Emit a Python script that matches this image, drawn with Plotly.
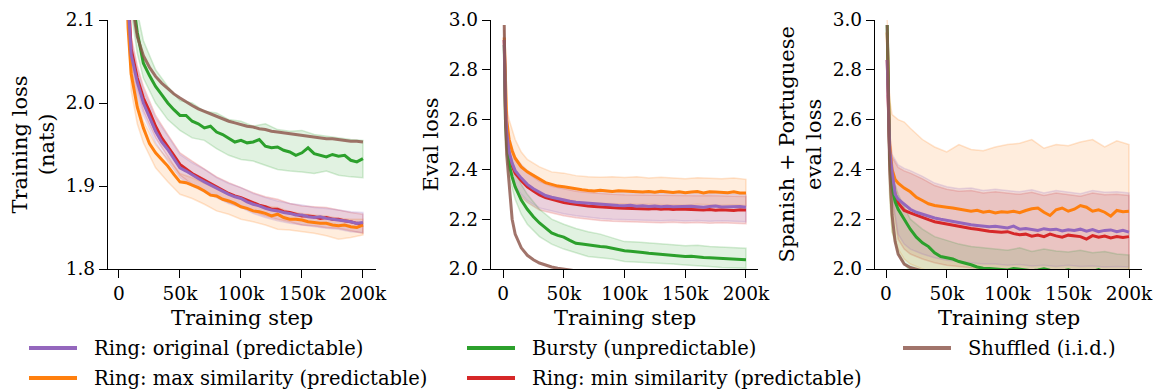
import plotly.graph_objects as go

# ---------------------------------------------------------------- data
STEPS = [1000, 2000, 3000, 5000, 7500, 10000, 15000, 20000] + list(range(25000, 200001, 5000))
BAND_STEPS = [1000, 3000, 5000, 10000, 15000, 20000] + list(range(30000, 200001, 10000))

SERIES = ["original", "max", "bursty", "min", "shuffled"]
LABELS = {
    "original": "Ring: original (predictable)",
    "max": "Ring: max similarity (predictable)",
    "bursty": "Bursty (unpredictable)",
    "min": "Ring: min similarity (predictable)",
    "shuffled": "Shuffled (i.i.d.)",
}
COLORS = {
    "original": (148, 103, 189),
    "max": (255, 127, 14),
    "bursty": (44, 160, 44),
    "min": (214, 39, 40),
    "shuffled": (140, 86, 75),
}

# Training loss (nats)
train_original = [2.95, 2.65, 2.47, 2.26, 2.12, 2.058, 2.025, 2.0, 1.983, 1.966, 1.953, 1.944, 1.933, 1.922,
                  1.918, 1.913, 1.909, 1.905, 1.901, 1.897, 1.893, 1.89, 1.887, 1.885, 1.881, 1.878, 1.876,
                  1.873, 1.871, 1.87, 1.868, 1.867, 1.865, 1.865, 1.863, 1.862, 1.863, 1.861, 1.86, 1.859,
                  1.858, 1.857, 1.855, 1.856]
train_max = [2.9, 2.6, 2.42, 2.2, 2.09, 2.035, 1.995, 1.97, 1.951, 1.94, 1.932, 1.924, 1.914, 1.905, 1.904,
             1.901, 1.898, 1.894, 1.889, 1.888, 1.884, 1.882, 1.879, 1.875, 1.873, 1.87, 1.869, 1.867, 1.864,
             1.866, 1.862, 1.86, 1.86, 1.859, 1.857, 1.856, 1.855, 1.855, 1.853, 1.852, 1.853, 1.851, 1.85,
             1.853]
train_bursty = [2.95, 2.7, 2.55, 2.36, 2.22, 2.14, 2.085, 2.048, 2.033, 2.02, 2.01, 2.0, 1.992, 1.985, 1.985,
                1.978, 1.975, 1.97, 1.972, 1.965, 1.962, 1.957, 1.953, 1.955, 1.952, 1.953, 1.956, 1.948,
                1.946, 1.947, 1.943, 1.941, 1.937, 1.94, 1.946, 1.939, 1.937, 1.935, 1.938, 1.936, 1.937,
                1.931, 1.929, 1.933]
train_min = [2.95, 2.66, 2.48, 2.27, 2.13, 2.065, 2.03, 2.006, 1.99, 1.972, 1.958, 1.948, 1.937, 1.926, 1.92,
             1.915, 1.911, 1.907, 1.902, 1.898, 1.895, 1.891, 1.888, 1.886, 1.883, 1.88, 1.877, 1.875, 1.872,
             1.872, 1.869, 1.868, 1.866, 1.864, 1.864, 1.863, 1.861, 1.862, 1.86, 1.86, 1.858, 1.857, 1.855,
             1.854]
train_shuffled = [2.9, 2.65, 2.5, 2.32, 2.2, 2.125, 2.08, 2.057, 2.043, 2.032, 2.024, 2.017, 2.011, 2.006,
                  2.001, 1.997, 1.993, 1.99, 1.987, 1.984, 1.981, 1.978, 1.976, 1.974, 1.972, 1.971, 1.969,
                  1.968, 1.966, 1.965, 1.964, 1.963, 1.962, 1.961, 1.96, 1.959, 1.958, 1.957, 1.957, 1.956,
                  1.955, 1.954, 1.954, 1.953]

train_original_hi = [3.0, 2.5, 2.29, 2.075, 2.04, 2.015, 1.982, 1.96, 1.938, 1.928, 1.92, 1.91, 1.903, 1.898,
                     1.891, 1.886, 1.882, 1.879, 1.877, 1.874, 1.873, 1.871, 1.869, 1.868]
train_original_lo = [2.9, 2.44, 2.23, 2.04, 2.008, 1.985, 1.952, 1.93, 1.91, 1.9, 1.893, 1.886, 1.879, 1.874,
                     1.867, 1.862, 1.858, 1.855, 1.853, 1.851, 1.849, 1.848, 1.845, 1.844]
train_max_hi = [2.95, 2.45, 2.22, 2.045, 2.005, 1.978, 1.95, 1.933, 1.915, 1.91, 1.903, 1.897, 1.891, 1.884,
                1.879, 1.876, 1.874, 1.869, 1.867, 1.865, 1.864, 1.861, 1.86, 1.86]
train_max_lo = [2.85, 2.38, 2.17, 2.015, 1.975, 1.952, 1.922, 1.905, 1.89, 1.885, 1.878, 1.87, 1.866, 1.86,
                1.857, 1.853, 1.848, 1.847, 1.845, 1.843, 1.84, 1.836, 1.838, 1.841]
train_bursty_hi = [3.0, 2.6, 2.4, 2.17, 2.11, 2.075, 2.04, 2.02, 2.003, 2.0, 1.99, 1.988, 1.98, 1.978, 1.972,
                   1.975, 1.968, 1.966, 1.967, 1.962, 1.96, 1.958, 1.956, 1.955]
train_bursty_lo = [2.9, 2.5, 2.32, 2.11, 2.06, 2.03, 2.0, 1.98, 1.967, 1.958, 1.955, 1.945, 1.937, 1.932,
                   1.93, 1.925, 1.92, 1.918, 1.917, 1.915, 1.918, 1.913, 1.911, 1.91]
train_min_hi = [3.0, 2.51, 2.3, 2.08, 2.045, 2.02, 1.985, 1.962, 1.94, 1.93, 1.921, 1.911, 1.904, 1.898,
                1.892, 1.887, 1.884, 1.879, 1.876, 1.875, 1.874, 1.871, 1.868, 1.866]
train_min_lo = [2.9, 2.45, 2.24, 2.048, 2.015, 1.99, 1.958, 1.935, 1.913, 1.902, 1.895, 1.887, 1.88, 1.875,
                1.869, 1.864, 1.86, 1.857, 1.853, 1.852, 1.85, 1.849, 1.846, 1.843]

# Eval loss
eval_original = [2.92, 2.65, 2.55, 2.47, 2.425, 2.395, 2.365, 2.34, 2.322, 2.308, 2.295, 2.288, 2.282, 2.277,
                 2.272, 2.268, 2.266, 2.263, 2.26, 2.259, 2.257, 2.256, 2.255, 2.254, 2.256, 2.252, 2.254,
                 2.251, 2.253, 2.25, 2.252, 2.25, 2.251, 2.249, 2.252, 2.25, 2.248, 2.251, 2.253, 2.249,
                 2.25, 2.248, 2.251, 2.248]
eval_max = [2.93, 2.7, 2.6, 2.52, 2.475, 2.445, 2.41, 2.39, 2.375, 2.36, 2.347, 2.34, 2.333, 2.33, 2.325,
            2.322, 2.318, 2.315, 2.313, 2.316, 2.313, 2.311, 2.314, 2.313, 2.31, 2.312, 2.309, 2.311, 2.308,
            2.312, 2.309, 2.307, 2.31, 2.306, 2.309, 2.311, 2.305, 2.31, 2.309, 2.307, 2.306, 2.31, 2.305,
            2.305]
eval_bursty = [2.9, 2.6, 2.5, 2.42, 2.37, 2.33, 2.277, 2.24, 2.21, 2.185, 2.165, 2.145, 2.135, 2.128, 2.115,
               2.103, 2.1, 2.096, 2.094, 2.09, 2.088, 2.082, 2.078, 2.073, 2.071, 2.067, 2.066, 2.063, 2.061,
               2.059, 2.056, 2.055, 2.053, 2.05, 2.051, 2.048, 2.046, 2.045, 2.044, 2.042, 2.041, 2.04,
               2.038, 2.037]
eval_min = [2.92, 2.64, 2.54, 2.46, 2.415, 2.385, 2.355, 2.33, 2.313, 2.298, 2.287, 2.28, 2.273, 2.267, 2.263,
            2.259, 2.256, 2.253, 2.251, 2.249, 2.247, 2.246, 2.245, 2.244, 2.243, 2.245, 2.242, 2.241, 2.243,
            2.24, 2.242, 2.239, 2.241, 2.24, 2.238, 2.24, 2.237, 2.239, 2.236, 2.238, 2.237, 2.235, 2.238,
            2.237]
eval_shuffled = [2.98, 2.6, 2.46, 2.33, 2.2, 2.14, 2.085, 2.055, 2.037, 2.024, 2.015, 2.008, 2.003, 1.999,
                 1.995, 1.991, 1.988, 1.985, 1.982, 1.98, 1.978, 1.976, 1.974, 1.972, 1.971, 1.969, 1.968,
                 1.966, 1.965, 1.964, 1.962, 1.961, 1.96, 1.959, 1.958, 1.957, 1.956, 1.955, 1.954, 1.953,
                 1.952, 1.952, 1.951, 1.95]

eval_original_hi = [2.97, 2.6, 2.53, 2.45, 2.42, 2.395, 2.36, 2.34, 2.33, 2.32, 2.315, 2.31, 2.308, 2.306,
                    2.305, 2.303, 2.302, 2.302, 2.3, 2.302, 2.303, 2.3, 2.3, 2.299]
eval_original_lo = [2.86, 2.49, 2.41, 2.33, 2.3, 2.275, 2.245, 2.232, 2.222, 2.214, 2.208, 2.203, 2.2, 2.197,
                    2.198, 2.195, 2.194, 2.196, 2.193, 2.195, 2.192, 2.194, 2.192, 2.19]
eval_max_hi = [2.98, 2.65, 2.6, 2.52, 2.47, 2.44, 2.41, 2.39, 2.385, 2.375, 2.37, 2.368, 2.37, 2.367, 2.37,
               2.365, 2.368, 2.365, 2.362, 2.366, 2.365, 2.362, 2.365, 2.36]
eval_max_lo = [2.88, 2.55, 2.45, 2.38, 2.35, 2.33, 2.3, 2.29, 2.28, 2.272, 2.265, 2.265, 2.262, 2.262, 2.26,
               2.26, 2.26, 2.258, 2.256, 2.26, 2.258, 2.256, 2.258, 2.255]
eval_bursty_hi = [2.96, 2.56, 2.48, 2.39, 2.34, 2.3, 2.24, 2.2, 2.18, 2.163, 2.15, 2.14, 2.125, 2.11, 2.108,
                  2.105, 2.1, 2.097, 2.093, 2.095, 2.09, 2.088, 2.085, 2.083]
eval_bursty_lo = [2.85, 2.45, 2.37, 2.28, 2.22, 2.18, 2.13, 2.1, 2.08, 2.065, 2.05, 2.045, 2.04, 2.03, 2.028,
                  2.025, 2.022, 2.02, 2.016, 2.012, 2.01, 2.006, 2.004, 2.003]
eval_min_hi = [2.96, 2.59, 2.52, 2.44, 2.41, 2.387, 2.352, 2.332, 2.322, 2.312, 2.307, 2.302, 2.3, 2.298,
               2.297, 2.295, 2.294, 2.294, 2.292, 2.294, 2.295, 2.292, 2.292, 2.291]
eval_min_lo = [2.85, 2.48, 2.4, 2.32, 2.29, 2.267, 2.237, 2.224, 2.214, 2.206, 2.2, 2.195, 2.192, 2.189,
               2.19, 2.187, 2.186, 2.188, 2.185, 2.187, 2.184, 2.186, 2.184, 2.182]

# Spanish + Portuguese eval loss
es_pt_original = [2.84, 2.6, 2.48, 2.39, 2.3, 2.28, 2.26, 2.24, 2.228, 2.22, 2.21, 2.205, 2.2, 2.195, 2.19,
                  2.188, 2.183, 2.178, 2.175, 2.172, 2.17, 2.172, 2.168, 2.165, 2.172, 2.16, 2.163, 2.158,
                  2.155, 2.162, 2.158, 2.16, 2.153, 2.158, 2.155, 2.16, 2.152, 2.158, 2.15, 2.155, 2.157,
                  2.15, 2.155, 2.148]
es_pt_max = [2.95, 2.7, 2.5, 2.4, 2.36, 2.345, 2.325, 2.31, 2.288, 2.275, 2.262, 2.255, 2.25, 2.248, 2.245,
             2.24, 2.237, 2.232, 2.236, 2.228, 2.232, 2.225, 2.23, 2.228, 2.232, 2.226, 2.235, 2.242, 2.245,
             2.228, 2.215, 2.238, 2.245, 2.232, 2.24, 2.255, 2.248, 2.232, 2.238, 2.228, 2.212, 2.235, 2.23,
             2.232]
es_pt_bursty = [2.98, 2.6, 2.45, 2.324, 2.27, 2.24, 2.2, 2.16, 2.128, 2.105, 2.09, 2.065, 2.05, 2.045, 2.04,
                2.03, 2.025, 2.017, 2.008, 2.003, 2.002, 2.0, 1.998, 1.996, 2.002, 1.998, 1.995, 1.993,
                1.996, 2.001, 1.995, 1.993, 1.992, 1.997, 1.99, 1.992, 1.988, 1.99, 1.998, 1.986, 1.988,
                1.985, 1.984, 1.985]
es_pt_min = [2.84, 2.58, 2.46, 2.37, 2.3, 2.265, 2.235, 2.225, 2.215, 2.208, 2.198, 2.19, 2.185, 2.18, 2.177,
             2.172, 2.168, 2.163, 2.16, 2.155, 2.152, 2.15, 2.148, 2.15, 2.142, 2.138, 2.14, 2.132, 2.136,
             2.13, 2.14, 2.133, 2.128, 2.136, 2.132, 2.13, 2.12, 2.134, 2.128, 2.132, 2.125, 2.13, 2.127,
             2.13]
es_pt_shuffled = [2.98, 2.6, 2.4, 2.217, 2.11, 2.06, 2.02, 2.006, 1.998, 1.99, 1.985, 1.98, 1.976, 1.972,
                  1.969, 1.966, 1.963, 1.961, 1.959, 1.957, 1.955, 1.953, 1.951, 1.95, 1.948, 1.947, 1.946,
                  1.945, 1.944, 1.943, 1.942, 1.941, 1.94, 1.939, 1.938, 1.937, 1.936, 1.935, 1.934, 1.933,
                  1.932, 1.931, 1.93, 1.93]

es_pt_original_hi = [2.98, 2.55, 2.46, 2.418, 2.404, 2.395, 2.372, 2.345, 2.33, 2.322, 2.325, 2.315, 2.32,
                     2.315, 2.31, 2.318, 2.305, 2.315, 2.31, 2.302, 2.315, 2.308, 2.31, 2.305]
es_pt_original_lo = [2.7, 2.4, 2.3, 2.14, 2.1, 2.08, 2.06, 2.045, 2.035, 2.03, 2.025, 2.02, 2.02, 2.015,
                     2.018, 2.012, 2.015, 2.01, 2.015, 2.01, 2.012, 2.008, 2.01, 2.008]
es_pt_max_hi = [3.0, 2.68, 2.62, 2.6, 2.59, 2.565, 2.52, 2.49, 2.47, 2.5, 2.48, 2.475, 2.49, 2.5, 2.505, 2.52,
                2.485, 2.5, 2.495, 2.51, 2.52, 2.49, 2.515, 2.5]
es_pt_max_lo = [2.85, 2.3, 2.15, 2.08, 2.04, 2.02, 2.0, 1.985, 1.978, 1.975, 1.972, 1.97, 1.97, 1.968, 1.968,
                1.966, 1.967, 1.965, 1.966, 1.964, 1.965, 1.963, 1.964, 1.963]
es_pt_bursty_hi = [2.98, 2.5, 2.38, 2.3, 2.25, 2.2, 2.16, 2.13, 2.115, 2.1, 2.09, 2.085, 2.08, 2.075, 2.085,
                   2.07, 2.08, 2.072, 2.068, 2.075, 2.065, 2.07, 2.06, 2.056]
es_pt_bursty_lo = [2.9, 2.3, 2.15, 2.06, 2.02, 1.99, 1.97, 1.955, 1.948, 1.942, 1.94, 1.938, 1.936, 1.935,
                   1.934, 1.933, 1.932, 1.932, 1.931, 1.93, 1.93, 1.929, 1.929, 1.928]
es_pt_min_hi = [2.97, 2.54, 2.45, 2.408, 2.394, 2.385, 2.362, 2.335, 2.32, 2.312, 2.315, 2.305, 2.31, 2.305,
                2.3, 2.308, 2.295, 2.305, 2.3, 2.292, 2.305, 2.298, 2.3, 2.295]
es_pt_min_lo = [2.7, 2.38, 2.28, 2.12, 2.08, 2.06, 2.04, 2.025, 2.015, 2.01, 2.005, 2.0, 2.0, 1.995, 1.998,
                1.992, 1.995, 1.99, 1.995, 1.99, 1.992, 1.988, 1.99, 1.988]

PANELS = [
    {
        "mean": {"original": train_original, "max": train_max, "bursty": train_bursty,
                 "min": train_min, "shuffled": train_shuffled},
        "band": {"original": (train_original_lo, train_original_hi), "max": (train_max_lo, train_max_hi),
                 "bursty": (train_bursty_lo, train_bursty_hi), "min": (train_min_lo, train_min_hi)},
        "ylabel": "Training loss<br>(nats)",
        "yrange": [1.8, 2.1],
        "yticks": [1.8, 1.9, 2.0, 2.1],
    },
    {
        "mean": {"original": eval_original, "max": eval_max, "bursty": eval_bursty,
                 "min": eval_min, "shuffled": eval_shuffled},
        "band": {"original": (eval_original_lo, eval_original_hi), "max": (eval_max_lo, eval_max_hi),
                 "bursty": (eval_bursty_lo, eval_bursty_hi), "min": (eval_min_lo, eval_min_hi)},
        "ylabel": "Eval loss",
        "yrange": [2.0, 3.0],
        "yticks": [2.0, 2.2, 2.4, 2.6, 2.8, 3.0],
    },
    {
        "mean": {"original": es_pt_original, "max": es_pt_max, "bursty": es_pt_bursty,
                 "min": es_pt_min, "shuffled": es_pt_shuffled},
        "band": {"original": (es_pt_original_lo, es_pt_original_hi), "max": (es_pt_max_lo, es_pt_max_hi),
                 "bursty": (es_pt_bursty_lo, es_pt_bursty_hi), "min": (es_pt_min_lo, es_pt_min_hi)},
        "ylabel": "Spanish + Portuguese<br>eval loss",
        "yrange": [2.0, 3.0],
        "yticks": [2.0, 2.2, 2.4, 2.6, 2.8, 3.0],
    },
]

X_TICKS = [0, 50000, 100000, 150000, 200000]
X_TICK_TEXT = ["0", "50k", "100k", "150k", "200k"]

# ---------------------------------------------------------------- layout geometry (pixels)
W, H = 1163, 390
FONT = "DejaVu Serif"
PLOT_TOP, PLOT_BOTTOM = 20, 269
PANEL_BOX = [(108, 376, [-9000, 210700]), (491, 758, [-9900, 209900]), (875, 1142, [-9050, 210700])]
YLABEL_X = [33, 430, 800]


def rgba(rgb, a):
    return "rgba(%d,%d,%d,%.3f)" % (rgb[0], rgb[1], rgb[2], a)


fig = go.Figure()
DRAW_ORDER = ["min", "max", "bursty", "original", "shuffled"]

for i, panel in enumerate(PANELS):
    xa = "x" if i == 0 else "x%d" % (i + 1)
    ya = "y" if i == 0 else "y%d" % (i + 1)
    for key in DRAW_ORDER:
        if key not in panel["band"]:
            continue
        lo, hi = panel["band"][key]
        fig.add_trace(go.Scatter(
            x=BAND_STEPS + BAND_STEPS[::-1], y=hi + lo[::-1],
            fill="toself", fillcolor=rgba(COLORS[key], 0.14),
            line=dict(color=rgba(COLORS[key], 0.2), width=1.5),
            mode="lines", hoverinfo="skip", showlegend=False, xaxis=xa, yaxis=ya,
        ))
    for key in DRAW_ORDER:
        alpha = 0.82 if key == "shuffled" else 1.0
        fig.add_trace(go.Scatter(
            x=STEPS, y=panel["mean"][key], mode="lines",
            line=dict(color=rgba(COLORS[key], alpha), width=3),
            name=LABELS[key], showlegend=False, xaxis=xa, yaxis=ya,
        ))

layout = dict(
    width=W, height=H, margin=dict(l=0, r=0, t=0, b=0, autoexpand=False),
    paper_bgcolor="white", plot_bgcolor="white",
    font=dict(family=FONT, color="black", size=18),
    showlegend=False,
)
annotations = []
shapes = []
for i, panel in enumerate(PANELS):
    left, right, xr = PANEL_BOX[i]
    sfx = "" if i == 0 else str(i + 1)
    axis_common = dict(
        showline=True, linecolor="black", linewidth=1.3, ticks="outside", ticklen=8,
        tickwidth=1.3, tickcolor="black", showgrid=False, zeroline=False, automargin=False,
        tickfont=dict(family=FONT, size=18.5, color="black"),
    )
    layout["xaxis" + sfx] = dict(
        axis_common, domain=[left / W, right / W], range=xr,
        tickvals=X_TICKS, ticktext=X_TICK_TEXT, anchor="y" + sfx,
    )
    layout["yaxis" + sfx] = dict(
        axis_common, domain=[1 - PLOT_BOTTOM / H, 1 - PLOT_TOP / H], range=panel["yrange"],
        tickvals=panel["yticks"], ticktext=["%.1f" % v for v in panel["yticks"]], anchor="x" + sfx,
    )
    annotations.append(dict(
        text="Training step", x=(left + right) / 2 / W, y=1 - 318 / H, xref="paper", yref="paper",
        xanchor="center", yanchor="middle", showarrow=False, font=dict(family=FONT, size=21),
    ))
    annotations.append(dict(
        text=panel["ylabel"], x=YLABEL_X[i] / W, y=1 - (PLOT_TOP + PLOT_BOTTOM) / 2 / H,
        xref="paper", yref="paper", xanchor="center", yanchor="middle", textangle=-90,
        showarrow=False, font=dict(family=FONT, size=21),
    ))

# legend: three columns, two rows
LEGEND_SLOTS = {"original": (29, 348), "bursty": (467, 348), "shuffled": (903, 348),
                "max": (29, 378), "min": (467, 378)}
for key, (lx, ly) in LEGEND_SLOTS.items():
    alpha = 0.82 if key == "shuffled" else 1.0
    shapes.append(dict(
        type="line", xref="paper", yref="paper", x0=lx / W, x1=(lx + 48) / W,
        y0=1 - ly / H, y1=1 - ly / H, line=dict(color=rgba(COLORS[key], alpha), width=4),
    ))
    annotations.append(dict(
        text=LABELS[key], x=(lx + 63) / W, y=1 - ly / H, xref="paper", yref="paper",
        xanchor="left", yanchor="middle", showarrow=False, font=dict(family=FONT, size=19.5),
    ))

layout["annotations"] = annotations
layout["shapes"] = shapes
fig.update_layout(**layout)
fig.write_html("out.html")
